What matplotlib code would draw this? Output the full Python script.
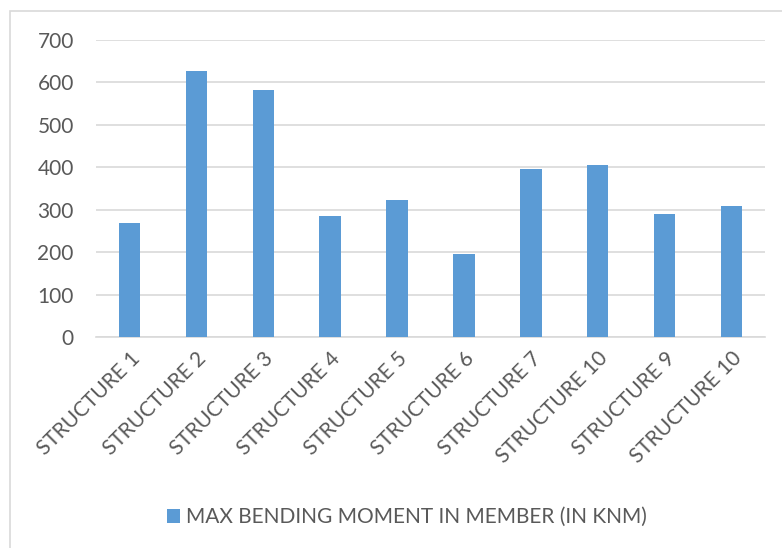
import matplotlib.pyplot as plt
from matplotlib.patches import Rectangle

categories = ['STRUCTURE 1', 'STRUCTURE 2', 'STRUCTURE 3', 'STRUCTURE 4',
              'STRUCTURE 5', 'STRUCTURE 6', 'STRUCTURE 7', 'STRUCTURE 10',
              'STRUCTURE 9', 'STRUCTURE 10']
moments = [268, 626, 581, 285, 324, 195, 397, 406, 291, 309]
series_name = 'MAX BENDING MOMENT IN MEMBER (IN KNM)'

bar_color = '#5B9BD5'
text_color = '#595959'
grid_color = '#D9D9D9'

plt.rcParams['font.family'] = ['Lato', 'DejaVu Sans']

fig = plt.figure(figsize=(7.82, 5.48), dpi=100)
ax = fig.add_axes([96 / 782, 1 - 337 / 548, (765 - 96) / 782, (337 - 40) / 548])

x = range(len(moments))
ax.bar(x, moments, width=0.32, color=bar_color, label=series_name, zorder=3)

ax.set_xlim(-0.5, len(moments) - 0.5)
ax.set_ylim(0, 700)
ax.set_yticks(range(0, 701, 100))
ax.yaxis.grid(True, color=grid_color, linewidth=1.2, zorder=0)
ax.set_xticks(list(x))
ax.set_xticklabels(categories, rotation=45, ha='right', rotation_mode='anchor')
ax.tick_params(axis='both', length=0, labelsize=15, labelcolor=text_color)
ax.tick_params(axis='y', pad=16)
ax.tick_params(axis='x', pad=8)

for side in ['top', 'right', 'left']:
    ax.spines[side].set_visible(False)
ax.spines['bottom'].set_color(grid_color)
ax.spines['bottom'].set_linewidth(1.2)

fig.legend(loc='center', bbox_to_anchor=(407 / 782, 1 - 517 / 548), frameon=False,
           fontsize=15, labelcolor=text_color, handlelength=0.65, handleheight=0.65,
           handletextpad=0.3)

fig.patches.append(Rectangle((10 / 782, -0.1), 1.2, 1 - 11 / 548 + 0.1,
                             transform=fig.transFigure, fill=False,
                             edgecolor=grid_color, linewidth=1.2))

fig.savefig('out.png', dpi=100)
